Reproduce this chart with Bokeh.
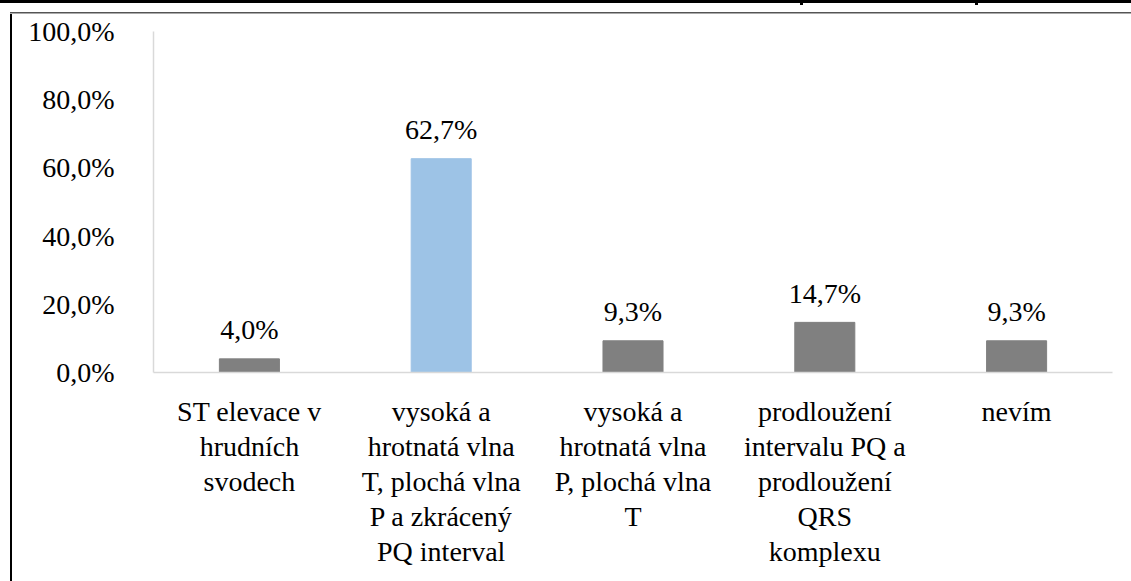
from bokeh.plotting import figure
from bokeh.models import ColumnDataSource, FactorRange, Range1d, FixedTicker
from bokeh.core.properties import value
from bokeh.embed import file_html
from bokeh.resources import INLINE

categories = [
    "ST elevace v\nhrudních\nsvodech",
    "vysoká a\nhrotnatá vlna\nT, plochá vlna\nP a zkrácený\nPQ interval",
    "vysoká a\nhrotnatá vlna\nP, plochá vlna\nT",
    "prodloužení\nintervalu PQ a\nprodloužení\nQRS\nkomplexu",
    "nevím",
]
values = [4.0, 62.7, 9.3, 14.7, 9.3]
bar_colors = ["#808080", "#9DC3E6", "#808080", "#808080", "#808080"]
y_ticks = [0, 20, 40, 60, 80, 100]
y_tick_labels = ["0,0%", "20,0%", "40,0%", "60,0%", "80,0%", "100,0%"]

FONT = "Liberation Serif"
FS = "28px"

labels = [f"{v:.1f}".replace(".", ",") + "%" for v in values]
src = ColumnDataSource(dict(cat=categories, val=values, color=bar_colors, label=labels))

p = figure(
    x_range=FactorRange(*categories, range_padding=0),
    y_range=Range1d(0, 100),
    width=1131, height=581,
    output_backend="svg", toolbar_location=None,
    min_border_left=153, min_border_right=19,
    min_border_top=31, min_border_bottom=209,
)
p.border_fill_color = None
p.background_fill_color = None
p.outline_line_color = None
p.styles = {
    "position": "fixed",
    "top": "0px",
    "left": "0px",
    "background": (
        "linear-gradient(#000,#000) 0 0 / 100% 3px no-repeat, "
        "linear-gradient(#000,#000) 800px 0 / 3px 5px no-repeat, "
        "linear-gradient(#000,#000) 975px 0 / 3px 5px no-repeat, "
        "linear-gradient(#555,#555) 10px 12px / 100% 1px no-repeat, "
        "linear-gradient(#aaa,#aaa) 10px 13px / 100% 1px no-repeat, "
        "linear-gradient(#000,#000) 10px 12px / 2px 100% no-repeat, "
        "#ffffff"
    ),
}

p.vbar(x="cat", top="val", width=0.313, color="color", source=src)
p.text(x="cat", y="val", text="label", source=src,
       text_align="center", text_baseline="alphabetic", y_offset=-29,
       text_font=value(FONT), text_font_size=FS, text_color="#000000")

p.xgrid.grid_line_color = None
p.ygrid.grid_line_color = None

for ax in (p.xaxis[0], p.yaxis[0]):
    ax.axis_line_color = "#d9d9d9"
    ax.axis_line_width = 1.5
    ax.major_tick_line_color = None
    ax.minor_tick_line_color = None
    ax.major_label_text_font = FONT
    ax.major_label_text_font_size = FS
    ax.major_label_text_color = "#000000"

p.xaxis.major_label_text_line_height = 1.13

p.yaxis.ticker = FixedTicker(ticks=y_ticks)
p.yaxis.major_label_overrides = {t: l for t, l in zip(y_ticks, y_tick_labels)}
p.yaxis.major_label_standoff = 33
p.xaxis.major_label_standoff = 17
p.xaxis.major_label_orientation = "horizontal"

open("out.html", "w").write(file_html(p, INLINE))
